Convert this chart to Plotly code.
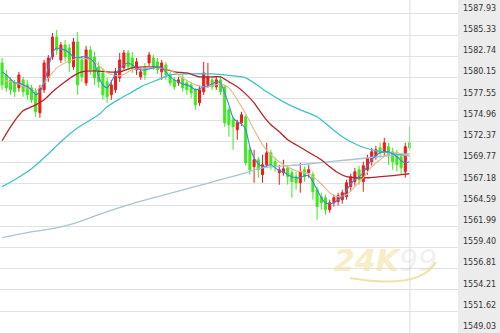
import plotly.graph_objects as go

# ---- candle data (prices) ----
opens = [1581.95,1580.49,1579.88,1579.51,1578.90,1579.88,1579.27,1578.90,1578.42,1575.85,
         1578.66,1580.12,1582.69,1585.13,1582.32,1584.15,1583.78,1581.47,1584.52,1582.32,
         1579.51,1583.54,1582.69,1581.47,1580.73,1579.64,1578.05,1578.66,1580.12,1581.34,
         1583.17,1582.56,1581.10,1580.25,1581.47,1581.95,1582.56,1582.08,1580.86,1581.71,
         1580.49,1579.88,1579.51,1580.12,1579.51,1579.27,1578.66,1577.07,1578.42,1579.27,
         1579.88,1579.03,1579.88,1579.03,1576.22,1575.00,1573.78,1574.63,1575.37,1571.34,
         1569.27,1570.12,1568.29,1569.51,1570.97,1569.88,1568.53,1568.53,1569.14,1568.53,
         1568.05,1567.31,1568.90,1568.53,1568.29,1566.46,1565.61,1565.48,1564.02,1564.87,
         1565.00,1565.24,1565.61,1566.83,1567.44,1568.90,1567.44,1568.90,1569.88,1570.49,
         1571.58,1571.10,1571.71,1571.10,1570.73,1570.49,1568.66,1572.19]
closes = [1579.27,1578.90,1578.66,1578.42,1580.49,1578.42,1578.05,1577.44,1575.98,1578.90,
          1581.95,1582.56,1585.13,1583.54,1584.15,1582.69,1581.95,1584.52,1579.27,1580.25,
          1583.54,1581.10,1580.12,1579.64,1578.05,1577.81,1579.27,1580.86,1582.32,1583.17,
          1581.47,1581.34,1582.08,1580.86,1580.49,1582.93,1581.47,1581.10,1581.95,1580.49,
          1579.51,1579.03,1579.88,1578.90,1578.66,1578.29,1576.83,1578.66,1580.73,1580.25,
          1579.03,1579.88,1578.42,1574.63,1574.39,1574.15,1574.63,1575.61,1569.75,1568.90,
          1570.12,1568.90,1569.51,1570.97,1569.51,1569.27,1568.90,1569.02,1568.05,1567.44,
          1567.31,1568.66,1568.05,1568.90,1566.22,1564.39,1564.87,1564.02,1564.87,1565.48,
          1565.73,1566.09,1567.31,1568.05,1568.66,1567.68,1569.39,1570.36,1571.10,1571.34,
          1570.97,1572.19,1570.73,1569.88,1569.51,1569.14,1571.71,1571.58]
highs = [1582.56,1581.10,1580.25,1579.88,1580.86,1580.25,1579.88,1579.27,1578.90,1579.27,
         1582.32,1582.93,1585.61,1585.98,1584.52,1584.76,1584.27,1585.00,1585.74,1582.81,
         1584.03,1584.03,1583.30,1582.08,1581.34,1580.12,1579.88,1581.34,1583.17,1583.54,
         1583.54,1583.30,1582.56,1581.34,1581.95,1583.30,1582.93,1582.56,1582.32,1582.08,
         1580.86,1580.25,1580.25,1580.49,1579.88,1579.64,1578.90,1579.15,1582.08,1581.95,
         1580.25,1580.25,1580.25,1579.27,1576.59,1575.37,1575.00,1575.98,1575.61,1571.71,
         1571.34,1570.49,1570.73,1572.19,1571.34,1570.36,1569.51,1570.12,1569.51,1568.90,
         1568.66,1569.75,1569.27,1569.51,1568.66,1566.83,1566.09,1565.85,1565.24,1565.85,
         1566.09,1566.46,1567.68,1568.41,1569.14,1569.39,1569.88,1570.73,1571.58,1571.83,
         1572.19,1572.80,1572.19,1571.58,1571.34,1570.97,1572.19,1574.15]
lows = [1578.66,1578.42,1578.05,1577.81,1578.42,1577.81,1577.44,1577.07,1575.37,1575.24,
        1578.29,1579.64,1582.32,1582.93,1581.95,1582.08,1580.86,1581.10,1578.05,1579.64,
        1579.15,1580.49,1579.27,1578.90,1577.44,1577.07,1577.44,1578.29,1579.64,1581.10,
        1581.10,1580.73,1580.49,1579.88,1579.88,1581.59,1581.10,1580.61,1579.88,1579.88,
        1579.15,1578.66,1579.15,1578.42,1578.05,1577.68,1576.22,1576.71,1578.05,1578.90,
        1578.66,1578.66,1578.05,1574.15,1572.93,1571.34,1572.56,1574.27,1569.39,1568.29,
        1567.31,1567.92,1567.31,1569.14,1568.90,1568.66,1567.07,1568.17,1567.07,1565.48,
        1566.46,1566.09,1567.44,1567.92,1565.24,1562.80,1564.02,1563.41,1563.65,1564.39,
        1564.51,1564.75,1565.24,1566.22,1566.95,1567.07,1566.22,1568.29,1569.39,1570.12,
        1570.36,1570.61,1569.51,1568.90,1568.66,1568.29,1567.92,1571.34]
idx = list(range(len(opens)))

# ---- moving averages ----
ma_blue = [1580.86,1580.49,1580.00,1579.51,1579.51,1579.27,1579.03,1578.66,1578.05,1578.42,
           1579.64,1581.34,1583.17,1583.78,1583.66,1583.54,1583.17,1582.69,1582.56,1582.69,
           1582.69,1582.44,1581.95,1580.25,1579.27,1578.90,1579.64,1580.61,1581.22,1581.71,
           1581.95,1581.71,1581.34,1581.10,1581.10,1581.22,1581.34,1581.47,1581.34,1580.86,
           1580.25,1579.88,1579.64,1579.39,1579.27,1579.03,1578.66,1578.78,1579.03,1579.15,
           1579.39,1579.64,1579.51,1578.29,1576.83,1575.24,1574.76,1574.51,1573.78,1571.71,
           1570.36,1569.63,1569.27,1569.39,1569.51,1569.14,1568.78,1568.66,1568.29,1568.05,
           1567.92,1567.92,1568.17,1568.17,1567.44,1566.46,1565.48,1564.87,1564.75,1564.87,
           1565.24,1565.61,1566.34,1567.19,1567.68,1568.05,1568.53,1569.39,1570.12,1570.61,
           1570.97,1571.10,1571.10,1570.85,1570.49,1570.00,1569.75,1569.88]

ma_tan_x = [0,4,8,11,13,16,19,22,25,28,31,34,37,40,43,46,49,52,54,56,58,60,62,64,67,70,73,76,78,80,82,84,86,88,90,92,94,96,97]
ma_tan = [1579.88,1579.39,1578.54,1580.12,1581.34,1582.20,1582.56,1582.08,1580.73,1580.37,
          1581.10,1581.34,1581.34,1581.10,1580.12,1579.27,1579.03,1579.39,1578.90,1577.44,
          1575.73,1573.78,1571.95,1570.73,1569.51,1568.78,1568.41,1567.19,1566.09,1565.61,
          1565.85,1566.83,1567.92,1569.27,1570.12,1570.85,1570.97,1570.73,1570.61]

ma_red_x = [0,2,5,8,10,12,15,17,19,22,25,28,31,35,38,41,44,47,50,52,54,56,58,60,62,64,66,68,70,72,74,76,78,80,82,84,87,90,93,95,97]
ma_red = [1572.44,1574.15,1576.10,1576.83,1577.44,1578.42,1579.64,1580.37,1580.86,1580.98,
          1580.86,1580.86,1581.34,1581.47,1581.34,1580.86,1580.73,1580.25,1580.25,1580.25,
          1579.64,1579.03,1578.17,1577.07,1575.61,1574.39,1573.54,1572.56,1571.95,1571.34,
          1570.73,1570.12,1569.27,1568.53,1568.05,1567.92,1567.92,1568.05,1568.17,1568.29,1568.41]

ma_cyan_x = [0,3,7,10,14,18,23,25,28,31,33,37,40,45,50,55,58,60,63,67,71,75,78,81,85,89,92,95,97]
ma_cyan = [1566.83,1567.68,1569.02,1570.36,1572.32,1574.02,1575.61,1576.59,1577.56,1578.42,
           1579.03,1579.88,1580.49,1580.61,1580.61,1580.37,1580.12,1579.51,1578.42,1577.20,
           1576.22,1575.37,1574.15,1572.93,1571.83,1571.22,1570.97,1570.73,1570.61]

ma_gray_x = [0,6,12,17,23,31,38,45,52,58,62,71,78,85,92,97]
ma_gray = [1560.60,1561.21,1561.70,1562.31,1563.41,1564.75,1565.73,1566.70,1567.68,1568.53,
           1569.14,1569.51,1569.88,1570.24,1570.61,1570.85]

tick_vals = [1549.03,1551.62,1554.21,1556.81,1559.40,1561.99,1564.59,1567.18,1569.77,
             1572.37,1574.96,1577.55,1580.15,1582.74,1585.33,1587.93]
tick_text = ["%.2f" % v for v in tick_vals]

fig = go.Figure()

def ma_line(xs, ys, color, width=1.2):
    fig.add_trace(go.Scatter(x=xs, y=ys, mode="lines", line=dict(color=color, width=width, shape="spline", smoothing=0.6),
                             hoverinfo="skip", showlegend=False))

ma_line(ma_gray_x, ma_gray, "#a9c3d3", 1.3)
ma_line(ma_cyan_x, ma_cyan, "#3ec3c6", 1.3)
ma_line(ma_red_x, ma_red, "#b8232b", 1.3)

fig.add_trace(go.Candlestick(
    x=idx, open=opens, high=highs, low=lows, close=closes,
    increasing=dict(line=dict(color="#ee1c1c", width=1), fillcolor="#ee1c1c"),
    decreasing=dict(line=dict(color="#3fe820", width=1), fillcolor="#3fe820"),
    whiskerwidth=0, showlegend=False))

ma_line(ma_tan_x, ma_tan, "#e3b88a", 1.1)
ma_line(idx, ma_blue, "#3e86d8", 1.1)

# watermark (single text, two colours)
fig.add_annotation(xref="paper", yref="paper", x=332/458, y=1-280/333, xanchor="left", yanchor="bottom",
                   text="<b><i>24K</i></b><span style='color:rgba(200,200,200,0.5)'><i>99</i></span>",
                   showarrow=False,
                   font=dict(family="DejaVu Sans", size=30, color="rgba(240,222,150,0.55)"))
fig.add_shape(type="path", xref="paper", yref="paper",
              path="M %f %f Q %f %f %f %f" % (350/458, 1-278/333, 420/458, 1-290/333, 436/458, 1-262/333),
              line=dict(color="rgba(236,214,130,0.7)", width=2))

# vertical end line
fig.add_shape(type="line", xref="x", yref="paper", x0=97.1, x1=97.1, y0=0, y1=1,
              line=dict(color="#dcdcdc", width=1))

fig.update_layout(
    width=500, height=333,
    margin=dict(l=0, r=42, t=0, b=0),
    paper_bgcolor="#ececec", plot_bgcolor="#ffffff",
    showlegend=False,
    xaxis=dict(range=[-0.5, 108.55], showgrid=False, showticklabels=False, zeroline=False,
               rangeslider=dict(visible=False), fixedrange=True),
    yaxis=dict(side="right", range=[1548.95, 1589.64], tickvals=tick_vals, ticktext=tick_text,
               showgrid=True, gridcolor="#e2e2e2", gridwidth=1, zeroline=False, ticks="",
               ticklabelshift=-6, ticklabelstandoff=4,
               tickfont=dict(family="DejaVu Sans", size=8, color="#333333")),
)

fig.write_html("out.html")
